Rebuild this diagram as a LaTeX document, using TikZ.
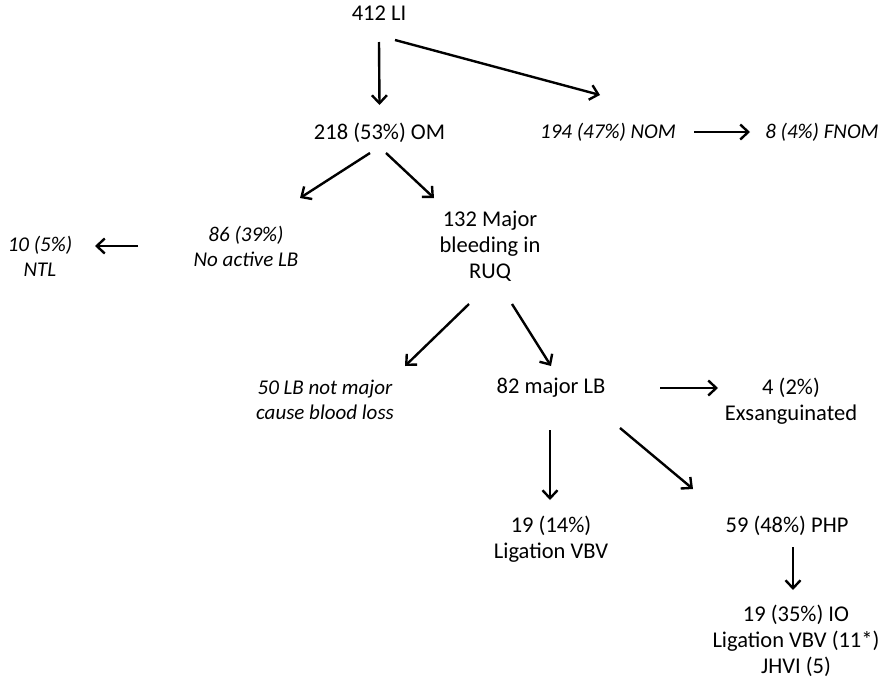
\documentclass[tikz,border=0pt]{standalone}
\usepackage{fontspec}
\setmainfont{Carlito}
\usetikzlibrary{arrows.meta}

\def\reg{\fontsize{22.5}{26}\selectfont}
\def\ita{\fontsize{21}{25}\selectfont\itshape}

\begin{document}
\begin{tikzpicture}[x=1pt,y=-1pt,>={Straight Barb[length=8pt,width=15pt]},
  box/.style={anchor=north,inner sep=0pt,align=center,font=\reg},
  ibox/.style={anchor=north,inner sep=0pt,align=center,font=\ita},
  arr/.style={->,line width=2.4pt}]
\useasboundingbox (0,0) rectangle (892,683);

% top
\node[box] (li) at (379,6) {412 LI};
\node[box] (om) at (379.5,123) {218 (53\%) OM};
\node[ibox] (nom) at (608,123) {194 (47\%) NOM};
\node[ibox] (fnom) at (822,123) {8 (4\%) FNOM};

\draw[arr] ([shift={(0,36)}]li.north) -- ([shift={(0,-18)}]om.north);
\draw[arr] ([shift={(16,34)}]li.north) -- ([shift={(-8,-28)}]nom.north);
\draw[arr] ([shift={(86,9)}]nom.north) -- ([shift={(-72,9)}]fnom.north);

% second row
\node[ibox] (ntl) at (40,236) {10 (5\%)\\NTL};
\node[ibox] (nal) at (246,226) {86 (39\%)\\No active LB};
\node[box] (ruq) at (490,211) {132 Major\\bleeding in\\RUQ};

\draw[arr] ([shift={(-9.5,30)}]om.north) -- ([shift={(54,-28)}]nal.north);
\draw[arr] ([shift={(6.5,30)}]om.north) -- ([shift={(-56,-13)}]ruq.north);
\draw[arr] ([shift={(-108,20)}]nal.north) -- ([shift={(55,10)}]ntl.north);

% third row
\node[ibox] (notmaj) at (325,380) {50 LB not major\\cause blood loss};
\node[box] (maj) at (551,378) {82 major LB};
\node[box] (exs) at (791,378) {4 (2\%)\\Exsanguinated};

\draw[arr] ([shift={(-21,93)}]ruq.north) -- ([shift={(80,-14)}]notmaj.north);
\draw[arr] ([shift={(22,93)}]ruq.north) -- ([shift={(0,-12)}]maj.north);
\draw[arr] ([shift={(109,10)}]maj.north) -- ([shift={(-73,10)}]exs.north);

% bottom
\node[box] (lig) at (551,516) {19 (14\%)\\Ligation VBV};
\node[box] (php) at (787,516) {59 (48\%) PHP};
\node[box] (io) at (796,605) {19 (35\%) IO\\Ligation VBV (11*)\\JHVI (5)};

\draw[arr] ([shift={(-1,52)}]maj.north) -- ([shift={(-1,-16)}]lig.north);
\draw[arr] ([shift={(69,50)}]maj.north) -- ([shift={(-94,-27)}]php.north);
\draw[arr] ([shift={(6,31)}]php.north) -- ([shift={(-3,-15)}]io.north);

\end{tikzpicture}
\end{document}
